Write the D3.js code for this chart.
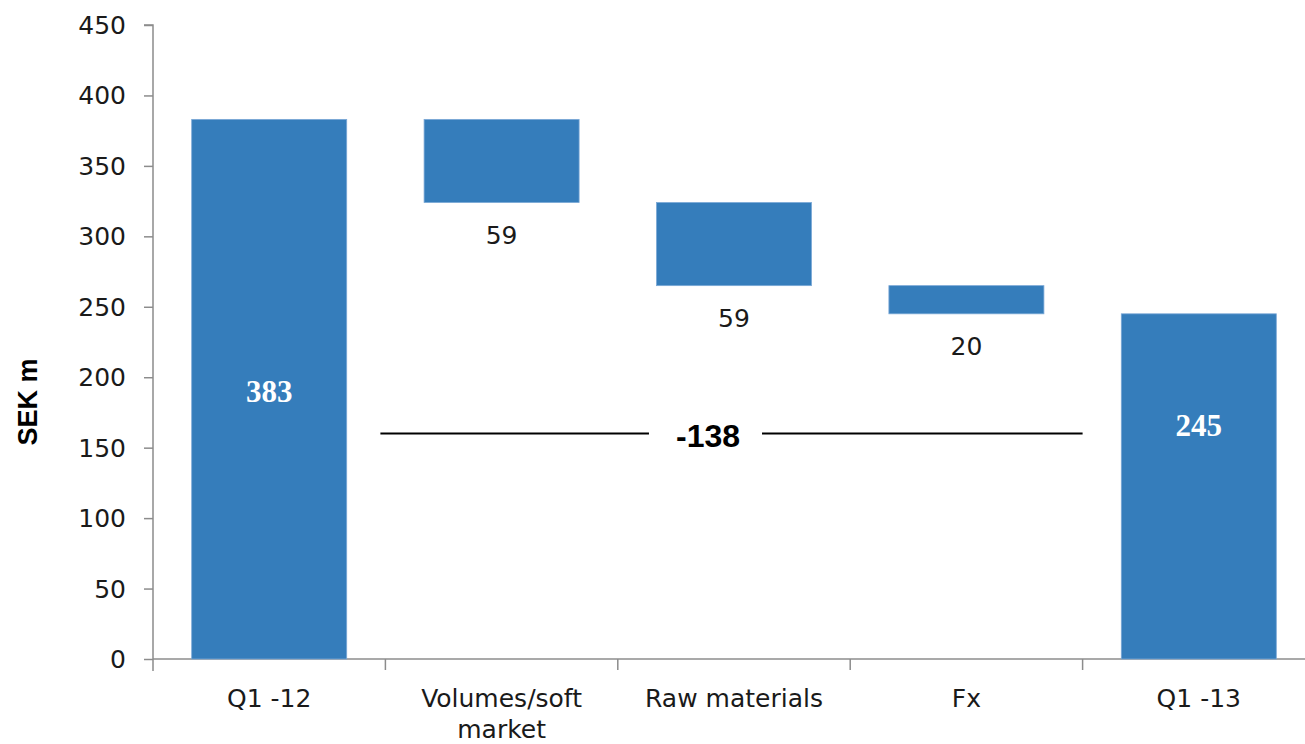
<!DOCTYPE html>
<html>
<head>
<meta charset="utf-8">
<script src="https://cdn.jsdelivr.net/npm/d3@7"></script>
<style>
  html, body { margin: 0; padding: 0; background: #fff; }
  svg { display: block; }
</style>
</head>
<body>
<svg id="chart" width="1305" height="744"></svg>
<script>
// Bridge of operating result, SEK m
const categories = ["Q1 -12", "Volumes/soft market", "Raw materials", "Fx", "Q1 -13"];
const categoryLines = [["Q1 -12"], ["Volumes/soft", "market"], ["Raw materials"], ["Fx"], ["Q1 -13"]];
const kinds = ["total", "change", "change", "change", "total"];
const values = [383, -59, -59, -20, 245];
const valueLabels = ["383", "59", "59", "20", "245"];
const yTicks = [0, 50, 100, 150, 200, 250, 300, 350, 400, 450];
const totalChange = -138;
const totalChangeLabel = "-138";

const svg = d3.select("#chart");
const barColor = "#357dbb";
const axisColor = "#8c8c8c";
const tickFont = "'DejaVu Sans', Verdana, sans-serif";

const y = d3.scaleLinear().domain([0, 450]).range([659, 25]);
const x = d3.scaleBand()
  .domain(categories)
  .range([153, 1315])
  .paddingInner(0.333)
  .paddingOuter(0.1665);

// Waterfall segments
let running = 0;
const segs = categories.map((c, i) => {
  let lo, hi;
  if (kinds[i] === "total") { lo = 0; hi = values[i]; running = values[i]; }
  else { const start = running; running += values[i]; lo = Math.min(start, running); hi = Math.max(start, running); }
  return { cat: c, lo, hi, kind: kinds[i], label: valueLabels[i], i };
});

// Y axis
const yAxis = d3.axisLeft(y).tickValues(yTicks).tickSize(9).tickPadding(18);
const gy = svg.append("g").attr("transform", "translate(153,0)").call(yAxis);
gy.select(".domain").attr("stroke", axisColor).attr("stroke-width", 1.5)
  .attr("d", `M-9,${y(450)}H0V${y(0) + 12}`);
gy.selectAll(".tick line").attr("stroke", axisColor).attr("stroke-width", 1.5);
gy.selectAll(".tick text")
  .attr("font-family", tickFont).attr("font-size", 25).attr("fill", "#1a1a1a")
  .attr("dy", "0.34em");

// X axis line and boundary ticks
const step = x.step();
svg.append("line")
  .attr("x1", 153).attr("x2", 1305).attr("y1", y(0)).attr("y2", y(0))
  .attr("stroke", axisColor).attr("stroke-width", 1.5);
categories.forEach((c, i) => {
  if (i === 0) return;
  const bx = x(c) - step * x.paddingInner() / 2;
  svg.append("line")
    .attr("x1", bx).attr("x2", bx).attr("y1", y(0)).attr("y2", y(0) + 11)
    .attr("stroke", axisColor).attr("stroke-width", 1.5);
});

// Category labels
categories.forEach((c, i) => {
  const cx = x(c) + x.bandwidth() / 2;
  const t = svg.append("text")
    .attr("x", cx).attr("y", y(0) + 48)
    .attr("text-anchor", "middle")
    .attr("font-family", tickFont).attr("font-size", 25).attr("fill", "#1a1a1a");
  categoryLines[i].forEach((ln, k) => {
    t.append("tspan").attr("x", cx).attr("dy", k === 0 ? 0 : 31).text(ln);
  });
});

// Bars
svg.selectAll("rect.bar").data(segs).enter().append("rect")
  .attr("class", "bar")
  .attr("x", d => x(d.cat))
  .attr("width", x.bandwidth())
  .attr("y", d => y(d.hi))
  .attr("height", d => y(d.lo) - y(d.hi))
  .attr("fill", barColor)
  .attr("stroke", "#7aa8d6").attr("stroke-width", 0.8);

// Change labels under each step
svg.selectAll("text.chg").data(segs.filter(d => d.kind === "change")).enter().append("text")
  .attr("class", "chg")
  .attr("x", d => x(d.cat) + x.bandwidth() / 2)
  .attr("y", d => y(d.lo) + 41)
  .attr("text-anchor", "middle")
  .attr("font-family", tickFont).attr("font-size", 25).attr("fill", "#1a1a1a")
  .text(d => d.label);

// Total labels inside the bars
const totalLabelAt = { 0: 190, 4: 166 };
svg.selectAll("text.tot").data(segs.filter(d => d.kind === "total")).enter().append("text")
  .attr("class", "tot")
  .attr("x", d => x(d.cat) + x.bandwidth() / 2)
  .attr("y", d => y(totalLabelAt[d.i]))
  .attr("dy", "0.35em")
  .attr("text-anchor", "middle")
  .attr("font-family", "'Liberation Serif', 'DejaVu Serif', serif")
  .attr("font-weight", "bold").attr("font-size", 31).attr("fill", "#ffffff")
  .text(d => d.label);

// Overall change bracket
const lineY = y(160);
const lx1 = x(categories[1]) - step * x.paddingInner() / 2 - 5;
const lx2 = x(categories[4]) - step * x.paddingInner() / 2;
const labelX = x(categories[2]) + x.bandwidth() / 2 - 26;
const lbl = svg.append("text")
  .attr("x", labelX).attr("y", lineY + 13)
  .attr("text-anchor", "middle")
  .attr("font-family", "'Liberation Sans', Arial, sans-serif")
  .attr("font-weight", "bold").attr("font-size", 32).attr("fill", "#000")
  .text(totalChangeLabel);
const bb = lbl.node().getBBox();
svg.append("line").attr("x1", lx1).attr("x2", bb.x - 27).attr("y1", lineY).attr("y2", lineY)
  .attr("stroke", "#000").attr("stroke-width", 2);
svg.append("line").attr("x1", bb.x + bb.width + 22).attr("x2", lx2).attr("y1", lineY).attr("y2", lineY)
  .attr("stroke", "#000").attr("stroke-width", 2);

// Y axis title
svg.append("text")
  .attr("transform", `translate(37,${402}) rotate(-90)`)
  .attr("text-anchor", "middle")
  .attr("font-family", "'Liberation Sans', Arial, sans-serif")
  .attr("font-weight", "bold").attr("font-size", 27).attr("fill", "#000")
  .text("SEK m");
</script>
</body>
</html>
